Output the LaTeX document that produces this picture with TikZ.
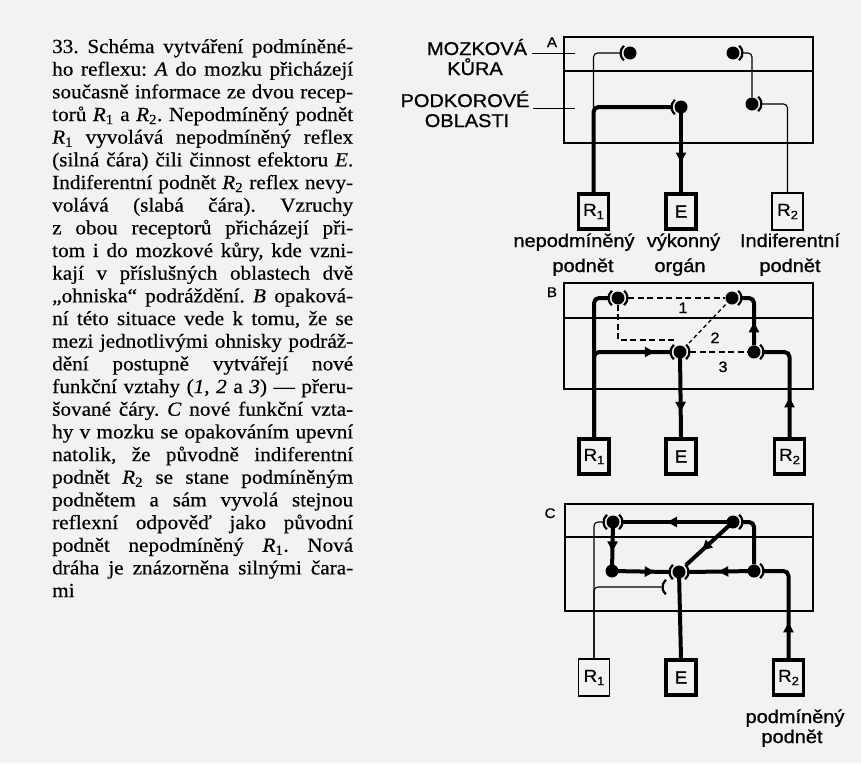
\documentclass[tikz,border=0pt]{standalone}
\usepackage{fontspec}
\setmainfont{Liberation Serif}[FakeStretch=1.06, FakeBold=0.4]
\newfontfamily\lsans{Liberation Sans}[FakeStretch=1.08, FakeBold=0.9]
\usetikzlibrary{arrows.meta,decorations.markings}
\frenchspacing
\newcommand\rsub[2]{#1\raisebox{-0.35ex}{\fontsize{12}{12}\selectfont #2}}
\newcommand\lpar[1]{\draw[parst] (#1.center) ++(130:9.5pt) arc[start angle=130, end angle=230, radius=9.5pt];}
\newcommand\rpar[1]{\draw[parst] (#1.center) ++(-50:9.5pt) arc[start angle=-50, end angle=50, radius=9.5pt];}
\newcommand\tline[2]{\node[tl] (t#1) at (52,{53+22.67*(#1-1)}) {\makebox[301pt][s]{#2}};}
\tikzset{
  tl/.style={anchor=base west, inner sep=0pt, font=\fontsize{20}{22}\selectfont},
  thk/.style={line width=4pt, rounded corners=5pt},
  thn/.style={line width=1.1pt, rounded corners=4pt},
  dsh/.style={line width=1.3pt, dash pattern=on 6pt off 3.5pt},
  frame/.style={line width=1.4pt},
  lead/.style={line width=0.8pt},
  parst/.style={line width=2.2pt},
  dot/.style={circle, fill=black, inner sep=0pt, minimum size=13pt},
  box/.style={draw, inner sep=0pt, font=\lsans\fontsize{17.5}{17.5}\selectfont},
  tbox/.style={box, line width=3.2pt, minimum width=30pt, minimum height=35pt},
  nbox/.style={box, line width=1.3pt, minimum width=31pt, minimum height=37pt},
  lbl/.style={font=\lsans\fontsize{18.5}{20}\selectfont, inner sep=0pt, anchor=base},
  let/.style={font=\lsans\fontsize{14}{14}\selectfont, inner sep=0pt, anchor=base},
  num/.style={font=\lsans\fontsize{15}{15}\selectfont, inner sep=0pt, anchor=base},
  arr/.style={postaction={decorate, decoration={markings,
      mark=at position #1 with {\arrow{Triangle[length=10pt,width=10pt]}}}}}
}
\begin{document}
\begin{tikzpicture}[x=1pt,y=-1pt]
\fill[black!5] (0,0) rectangle (861,763);
\useasboundingbox (0,0) rectangle (861,763);

% ---------- text ----------
\tline{1}{33. Schéma vytváření podmíněné-}
\tline{2}{ho reflexu: \textit{A} do mozku přicházejí}
\tline{3}{současně informace ze dvou recep-}
\tline{4}{torů \textit{R}\textsubscript{1} a \textit{R}\textsubscript{2}. Nepodmíněný podnět}
\tline{5}{\textit{R}\textsubscript{1} vyvolává nepodmíněný reflex}
\tline{6}{(silná čára) čili činnost efektoru \textit{E}.}
\tline{7}{Indiferentní podnět \textit{R}\textsubscript{2} reflex nevy-}
\tline{8}{volává (slabá čára). Vzruchy}
\tline{9}{z obou receptorů přicházejí při-}
\tline{10}{tom i do mozkové kůry, kde vzni-}
\tline{11}{kají v příslušných oblastech dvě}
\tline{12}{„ohniska“ podráždění. \textit{B} opaková-}
\tline{13}{ní této situace vede k tomu, že se}
\tline{14}{mezi jednotlivými ohnisky podráž-}
\tline{15}{dění postupně vytvářejí nové}
\tline{16}{funkční vztahy (\textit{1}, \textit{2} a \textit{3}) — přeru-}
\tline{17}{šované čáry. \textit{C} nové funkční vzta-}
\tline{18}{hy v mozku se opakováním upevní}
\tline{19}{natolik, že původně indiferentní}
\tline{20}{podnět \textit{R}\textsubscript{2} se stane podmíněným}
\tline{21}{podnětem a sám vyvolá stejnou}
\tline{22}{reflexní odpověď jako původní}
\tline{23}{podnět nepodmíněný \textit{R}\textsubscript{1}. Nová}
\tline{24}{dráha je znázorněna silnými čara-}
\node[tl] (t25) at (52,{53+22.67*24}) {mi};

% ---------- diagram A ----------
\draw[frame] (564,37) rectangle (813,143);
\draw[frame] (564,71) -- (813,71);
\node[let] (la) at (552,47) {A};
\node[lbl] (mk) at (477,55) {MOZKOVÁ};
\node[lbl] (kr) at (475,75) {KŮRA};
\node[lbl] (pk) at (465,107) {PODKOROVÉ};
\node[lbl] (ob) at (467,127) {OBLASTI};
\coordinate (mk1) at (532,53); \coordinate (mk2) at (575,53);
\coordinate (pk1) at (533,108); \coordinate (pk2) at (575,108);
\draw[lead] (mk1) -- (mk2);
\draw[lead] (pk1) -- (pk2);
\node[dot] (a1) at (630,53) {};
\node[dot] (a2) at (733,53) {};
\node[dot] (a3) at (752,104) {};
\node[dot] (a4) at (681,107) {};
\node[tbox] (ra1) at (593.5,211.5) {\rsub{R}{1}};
\node[tbox] (ea) at (681,211.5) {E};
\node[nbox] (r2a) at (787.5,211.5) {\rsub{R}{2}};
\draw[thk] (ra1.north) |- ([xshift=-10pt]a4.center);
\draw[thn] (ra1.north) |- ([xshift=-10pt]a1.center);
\draw[thk, arr=0.65] (a4.center) -- (ea.north);
\draw[thn] ([xshift=10pt]a2.center) -| (a3.north);
\draw[thn] ([xshift=10pt]a3.center) -| (r2a.north);
\lpar{a1}\rpar{a2}\rpar{a3}\lpar{a4}
\node[lbl] (l1a) at (574,247) {nepodmíněný};
\node[lbl] (l1b) at (583,272) {podnět};
\node[lbl] (l2a) at (683.5,247) {výkonný};
\node[lbl] (l2b) at (680,272) {orgán};
\node[lbl] (l3a) at (790,247) {Indiferentní};
\node[lbl] (l3b) at (790,272) {podnět};

% ---------- diagram B ----------
\draw[frame] (564,283) rectangle (813,389);
\draw[frame] (564,318) -- (813,318);
\node[let] (lb) at (552,297) {B};
\node[dot] (b1) at (618,298) {};
\node[dot] (b2) at (732,298) {};
\node[dot] (b3) at (754,352) {};
\node[dot] (b4) at (680,352) {};
\node[tbox] (rb1) at (594,456.5) {\rsub{R}{1}};
\node[tbox] (eb) at (681,456.5) {E};
\node[tbox] (rb2) at (789.5,456.5) {\rsub{R}{2}};
\draw[thk] (rb1.north) |- ([xshift=-10pt]b1.center);
\draw[thk, arr=144pt] (rb1.north) |- ([xshift=-10pt]b4.center);
\draw[thk, arr=0.7] (b4.center) -- (eb.north);
\draw[thk, arr=40pt] (rb2.north) |- ([xshift=10pt]b3.center);
\draw[thk, arr=23pt] (b3.north) |- ([xshift=10pt]b2.center);
\draw[dsh] ([xshift=10pt]b1.center) -- (b2.west);
\draw[dsh] (b1.south) |- ([xshift=-4pt,yshift=12pt]b4.center);
\draw[dsh, dash pattern=on 4pt off 3pt] ([xshift=9pt,yshift=9pt]b4.center) -- (b2.south west);
\draw[dsh] ([xshift=10pt]b4.center) -- (b3.west);
\lpar{b1}\rpar{b1}\rpar{b2}\rpar{b3}\lpar{b4}\rpar{b4}
\node[num] (n1) at (683,313) {1};
\node[num] (n2) at (715,343) {2};
\node[num] (n3) at (723,372) {3};

% ---------- diagram C ----------
\draw[frame] (565,504) rectangle (813,611);
\draw[frame] (565,537) -- (813,537);
\node[let] (lc) at (550,518) {C};
\node[dot] (c1) at (613,522) {};
\node[dot] (c2) at (733,522) {};
\node[dot] (c3) at (612,571) {};
\node[dot] (c4) at (679,572) {};
\node[dot] (c5) at (754,571) {};
\coordinate (cp) at (672,587);
\node[nbox] (rc1) at (594,677.5) {\rsub{R}{1}};
\node[tbox] (ec) at (681,677.5) {E};
\node[tbox] (rc2) at (788.5,677.5) {\rsub{R}{2}};
\draw[thn] (rc1.north) |- ([xshift=-10pt]c1.center);
\draw[thn] (rc1.north) |- ([xshift=-9.5pt]cp);
\draw[thk, arr=66pt] (c2.center) -- ([xshift=10pt]c1.center);
\draw[thk, arr=0.6] (c1.center) -- (c3.center);
\draw[thk, arr=0.75] (c3.center) -- ([xshift=-10pt]c4.center);
\draw[thk, arr=0.66] (c2.center) -- ([xshift=7pt,yshift=7pt]c4.center);
\draw[thk] ([xshift=10pt]c2.center) -| (c5.north);
\draw[thk, arr=0.55] (c5.center) -- ([xshift=10pt]c4.center);
\draw[thk, arr=36pt] (rc2.north) |- ([xshift=10pt]c5.center);
\draw[thk] (c4.center) -- (ec.north);
\lpar{c1}\rpar{c1}\rpar{c2}\lpar{c4}\rpar{c4}\rpar{c5}\lpar{cp}
\node[lbl] (l4a) at (795,723) {podmíněný};
\node[lbl] (l4b) at (792,743) {podnět};
\end{tikzpicture}
\end{document}
